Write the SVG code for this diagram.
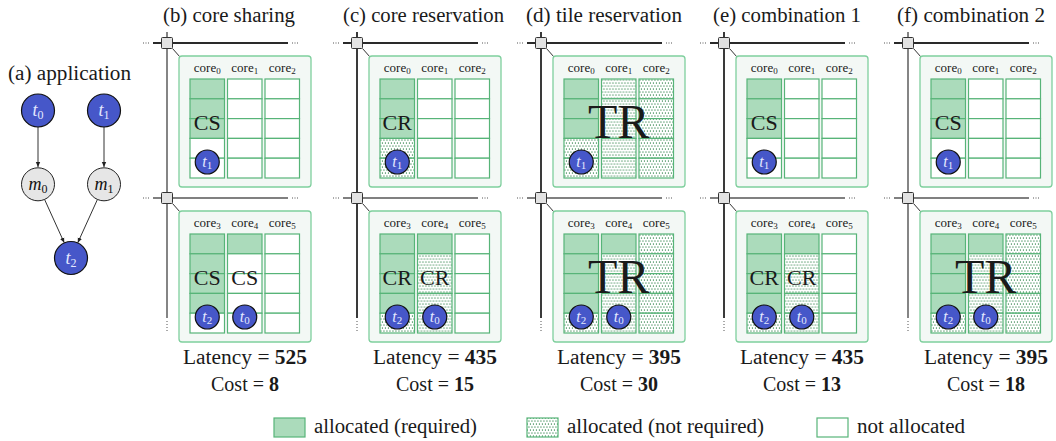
<svg xmlns="http://www.w3.org/2000/svg" width="1056" height="441" viewBox="0 0 1056 441" font-family="'Liberation Serif', 'Times New Roman', serif">
<defs>
<style>
text{font-family:"Liberation Serif","Times New Roman",serif}
.serif{fill:#1a1a1a}
.title{font-size:20px}
.core{font-size:13px;text-anchor:middle}
.big{font-size:22px;text-anchor:middle}
.tr{font-size:48px;text-anchor:middle}
.num{font-size:20px;text-anchor:middle}
.g{fill:#abdbbb;stroke:#57b478;stroke-width:1.2}
.d{fill:url(#dots);stroke:#57b478;stroke-width:1.2}
.w{fill:#fff;stroke:#57b478;stroke-width:1.2}
.tile{fill:#f3f8f5;stroke:#7fcf9d;stroke-width:1.3}
.router{fill:#e2e2e2;stroke:#333;stroke-width:1}
.task{fill:#4657c9;stroke:#111;stroke-width:1.2}
.msg{fill:#e6e6e6;stroke:#222;stroke-width:1}
.tt{fill:#e4e8ff;text-anchor:middle}
.mt{fill:#111;text-anchor:middle}
.hd{stroke:#2a2a2a;stroke-width:2}
.hg{stroke:#808080;stroke-width:2}
.vd{stroke:#3a3a3a;stroke-width:2}
.vg{stroke:#858585;stroke-width:2}
.dotsh{stroke:#555;stroke-width:1;stroke-dasharray:1 1.5}
.dotsv{stroke:#555;stroke-width:1;stroke-dasharray:1 2}
.diag{stroke:#333;stroke-width:1}
.edge{stroke:#333;stroke-width:1;fill:none;marker-end:url(#arr)}
</style>
<pattern id="dots" width="3" height="6" patternUnits="userSpaceOnUse">
<rect width="3" height="6" fill="#fff"/>
<rect x="0.4" y="0.5" width="1.1" height="1.1" fill="#1f7a3c"/>
<rect x="1.9" y="3.5" width="1.1" height="1.1" fill="#1f7a3c"/>
</pattern>
<marker id="arr" markerWidth="6" markerHeight="6" refX="5" refY="3" orient="auto" markerUnits="userSpaceOnUse">
<path d="M0,0.8 L5,3 L0,5.2 z" fill="#222"/>
</marker>
<g id="cW"><rect class="w" x="0" y="0" width="34.5" height="19.8"/><rect class="w" x="0" y="19.8" width="34.5" height="19.8"/><rect class="w" x="0" y="39.6" width="34.5" height="19.8"/><rect class="w" x="0" y="59.4" width="34.5" height="19.8"/><rect class="w" x="0" y="79.2" width="34.5" height="19.8"/></g>
<g id="cD"><rect class="d" x="0" y="0" width="34.5" height="19.8"/><rect class="d" x="0" y="19.8" width="34.5" height="19.8"/><rect class="d" x="0" y="39.6" width="34.5" height="19.8"/><rect class="d" x="0" y="59.4" width="34.5" height="19.8"/><rect class="d" x="0" y="79.2" width="34.5" height="19.8"/></g>
<g id="cG3W"><rect class="g" x="0" y="0" width="34.5" height="19.8"/><rect class="g" x="0" y="19.8" width="34.5" height="19.8"/><rect class="g" x="0" y="39.6" width="34.5" height="19.8"/><rect class="w" x="0" y="59.4" width="34.5" height="19.8"/><rect class="w" x="0" y="79.2" width="34.5" height="19.8"/></g>
<g id="cG3D"><rect class="g" x="0" y="0" width="34.5" height="19.8"/><rect class="g" x="0" y="19.8" width="34.5" height="19.8"/><rect class="g" x="0" y="39.6" width="34.5" height="19.8"/><rect class="d" x="0" y="59.4" width="34.5" height="19.8"/><rect class="d" x="0" y="79.2" width="34.5" height="19.8"/></g>
<g id="cG4W"><rect class="g" x="0" y="0" width="34.5" height="19.8"/><rect class="g" x="0" y="19.8" width="34.5" height="19.8"/><rect class="g" x="0" y="39.6" width="34.5" height="19.8"/><rect class="g" x="0" y="59.4" width="34.5" height="19.8"/><rect class="w" x="0" y="79.2" width="34.5" height="19.8"/></g>
<g id="cG4D"><rect class="g" x="0" y="0" width="34.5" height="19.8"/><rect class="g" x="0" y="19.8" width="34.5" height="19.8"/><rect class="g" x="0" y="39.6" width="34.5" height="19.8"/><rect class="g" x="0" y="59.4" width="34.5" height="19.8"/><rect class="d" x="0" y="79.2" width="34.5" height="19.8"/></g>
<g id="cG1W"><rect class="g" x="0" y="0" width="34.5" height="19.8"/><rect class="w" x="0" y="19.8" width="34.5" height="19.8"/><rect class="w" x="0" y="39.6" width="34.5" height="19.8"/><rect class="w" x="0" y="59.4" width="34.5" height="19.8"/><rect class="w" x="0" y="79.2" width="34.5" height="19.8"/></g>
<g id="cG1D"><rect class="g" x="0" y="0" width="34.5" height="19.8"/><rect class="d" x="0" y="19.8" width="34.5" height="19.8"/><rect class="d" x="0" y="39.6" width="34.5" height="19.8"/><rect class="d" x="0" y="59.4" width="34.5" height="19.8"/><rect class="d" x="0" y="79.2" width="34.5" height="19.8"/></g>
</defs>
<rect width="1056" height="441" fill="#fff"/>

<!-- (a) application -->
<text class="serif title" x="8" y="80" textLength="123" lengthAdjust="spacingAndGlyphs">(a) application</text>
<g id="app-edges">
<line class="edge" x1="38" y1="127" x2="38" y2="167"/>
<line class="edge" x1="104" y1="127" x2="104" y2="167"/>
<line class="edge" x1="44.5" y1="199.3" x2="64.2" y2="242.7"/>
<line class="edge" x1="97.5" y1="199.3" x2="77.8" y2="242.7"/>
</g>
<g id="node-t0"><circle class="task" cx="38" cy="110.5" r="16.5"/><text class="tt" x="38" y="116" font-size="18" style="font-family:'Liberation Serif',serif"><tspan font-style="italic">t</tspan><tspan font-size="12" dy="3">0</tspan></text></g>
<g id="node-t1"><circle class="task" cx="104" cy="110.5" r="16.5"/><text class="tt" x="104" y="116" font-size="18" style="font-family:'Liberation Serif',serif"><tspan font-style="italic">t</tspan><tspan font-size="12" dy="3">1</tspan></text></g>
<g id="node-m0"><circle class="msg" cx="38" cy="184.3" r="16.5"/><text class="mt" x="38" y="189.5" font-size="18" style="font-family:'Liberation Serif',serif"><tspan font-style="italic">m</tspan><tspan font-size="12" dy="3">0</tspan></text></g>
<g id="node-m1"><circle class="msg" cx="104" cy="184.3" r="16.5"/><text class="mt" x="104" y="189.5" font-size="18" style="font-family:'Liberation Serif',serif"><tspan font-style="italic">m</tspan><tspan font-size="12" dy="3">1</tspan></text></g>
<g id="node-t2"><circle class="task" cx="71" cy="258" r="16.5"/><text class="tt" x="71" y="263.5" font-size="18" style="font-family:'Liberation Serif',serif"><tspan font-style="italic">t</tspan><tspan font-size="12" dy="3">2</tspan></text></g>

<!-- titles -->
<g id="titles" class="serif title">
<text x="163" y="22" textLength="132" lengthAdjust="spacingAndGlyphs">(b) core sharing</text>
<text x="343" y="22" textLength="161" lengthAdjust="spacingAndGlyphs">(c) core reservation</text>
<text x="526" y="22" textLength="156" lengthAdjust="spacingAndGlyphs">(d) tile reservation</text>
<text x="713" y="22" textLength="148" lengthAdjust="spacingAndGlyphs">(e) combination 1</text>
<text x="897" y="22" textLength="148" lengthAdjust="spacingAndGlyphs">(f) combination 2</text>
</g>

<!-- network links -->
<g id="connectors">
<line class="vg" x1="167" y1="32" x2="167" y2="318"/>
<line class="dotsv" x1="167" y1="321" x2="167" y2="331"/>
<line class="hd" x1="153" y1="43" x2="288" y2="43"/><line class="dotsh" x1="143" y1="43" x2="150" y2="43"/><line class="dotsh" x1="292" y1="43" x2="299" y2="43"/>
<line class="hg" x1="153" y1="198" x2="288" y2="198"/><line class="dotsh" x1="143" y1="198" x2="150" y2="198"/><line class="dotsh" x1="292" y1="198" x2="299" y2="198"/>
<line class="diag" x1="172.5" y1="48.5" x2="180" y2="57"/><line class="diag" x1="172.5" y1="203.5" x2="180" y2="212"/>
<line class="vd" x1="357" y1="32" x2="357" y2="318"/>
<line class="dotsv" x1="357" y1="321" x2="357" y2="331"/>
<line class="hd" x1="343" y1="43" x2="478" y2="43"/><line class="dotsh" x1="333" y1="43" x2="340" y2="43"/><line class="dotsh" x1="482" y1="43" x2="489" y2="43"/>
<line class="hg" x1="343" y1="198" x2="478" y2="198"/><line class="dotsh" x1="333" y1="198" x2="340" y2="198"/><line class="dotsh" x1="482" y1="198" x2="489" y2="198"/>
<line class="diag" x1="362.5" y1="48.5" x2="370" y2="57"/><line class="diag" x1="362.5" y1="203.5" x2="370" y2="212"/>
<line class="vd" x1="541" y1="32" x2="541" y2="318"/>
<line class="dotsv" x1="541" y1="321" x2="541" y2="331"/>
<line class="hd" x1="527" y1="43" x2="662" y2="43"/><line class="dotsh" x1="517" y1="43" x2="524" y2="43"/><line class="dotsh" x1="666" y1="43" x2="673" y2="43"/>
<line class="hg" x1="527" y1="198" x2="662" y2="198"/><line class="dotsh" x1="517" y1="198" x2="524" y2="198"/><line class="dotsh" x1="666" y1="198" x2="673" y2="198"/>
<line class="diag" x1="546.5" y1="48.5" x2="554" y2="57"/><line class="diag" x1="546.5" y1="203.5" x2="554" y2="212"/>
<line class="vd" x1="724" y1="32" x2="724" y2="318"/>
<line class="dotsv" x1="724" y1="321" x2="724" y2="331"/>
<line class="hd" x1="710" y1="43" x2="845" y2="43"/><line class="dotsh" x1="700" y1="43" x2="707" y2="43"/><line class="dotsh" x1="849" y1="43" x2="856" y2="43"/>
<line class="hg" x1="710" y1="198" x2="845" y2="198"/><line class="dotsh" x1="700" y1="198" x2="707" y2="198"/><line class="dotsh" x1="849" y1="198" x2="856" y2="198"/>
<line class="diag" x1="729.5" y1="48.5" x2="737" y2="57"/><line class="diag" x1="729.5" y1="203.5" x2="737" y2="212"/>
<line class="vg" x1="908" y1="32" x2="908" y2="318"/>
<line class="dotsv" x1="908" y1="321" x2="908" y2="331"/>
<line class="hd" x1="894" y1="43" x2="1029" y2="43"/><line class="dotsh" x1="884" y1="43" x2="891" y2="43"/><line class="dotsh" x1="1033" y1="43" x2="1040" y2="43"/>
<line class="hg" x1="894" y1="198" x2="1029" y2="198"/><line class="dotsh" x1="884" y1="198" x2="891" y2="198"/><line class="dotsh" x1="1033" y1="198" x2="1040" y2="198"/>
<line class="diag" x1="913.5" y1="48.5" x2="921" y2="57"/><line class="diag" x1="913.5" y1="203.5" x2="921" y2="212"/>
</g>

<g id="routers">
<rect class="router" x="161.5" y="37.5" width="11" height="11" rx="1"/><rect class="router" x="161.5" y="192.5" width="11" height="11" rx="1"/>
<rect class="router" x="351.5" y="37.5" width="11" height="11" rx="1"/><rect class="router" x="351.5" y="192.5" width="11" height="11" rx="1"/>
<rect class="router" x="535.5" y="37.5" width="11" height="11" rx="1"/><rect class="router" x="535.5" y="192.5" width="11" height="11" rx="1"/>
<rect class="router" x="718.5" y="37.5" width="11" height="11" rx="1"/><rect class="router" x="718.5" y="192.5" width="11" height="11" rx="1"/>
<rect class="router" x="902.5" y="37.5" width="11" height="11" rx="1"/><rect class="router" x="902.5" y="192.5" width="11" height="11" rx="1"/>
</g>

<!-- (b) -->
<g id="tile-b-top" style="font-family:'Liberation Serif',serif">
<rect class="tile" x="179" y="56" width="132" height="131" rx="3"/>
<use href="#cG3W" x="190" y="79"/><use href="#cW" x="227.5" y="79"/><use href="#cW" x="265" y="79"/>
<g class="serif core"><text x="207.25" y="72">core<tspan font-size="9" dy="2">0</tspan></text><text x="244.75" y="72">core<tspan font-size="9" dy="2">1</tspan></text><text x="282.25" y="72">core<tspan font-size="9" dy="2">2</tspan></text></g>
<text class="serif big" x="207.25" y="130">CS</text>
<circle class="task" cx="207.25" cy="162" r="12"/><text class="tt" x="207.25" y="166.5" font-size="16"><tspan font-style="italic">t</tspan><tspan font-size="11" dy="2.5">1</tspan></text>
</g>
<g id="tile-b-bottom" style="font-family:'Liberation Serif',serif">
<rect class="tile" x="179" y="211" width="132" height="131" rx="3"/>
<use href="#cG4W" x="190" y="234"/><use href="#cG1W" x="227.5" y="234"/><use href="#cW" x="265" y="234"/>
<g class="serif core"><text x="207.25" y="227">core<tspan font-size="9" dy="2">3</tspan></text><text x="244.75" y="227">core<tspan font-size="9" dy="2">4</tspan></text><text x="282.25" y="227">core<tspan font-size="9" dy="2">5</tspan></text></g>
<text class="serif big" x="207.25" y="285">CS</text><text class="serif big" x="244.75" y="285">CS</text>
<circle class="task" cx="207.25" cy="317" r="12"/><text class="tt" x="207.25" y="321.5" font-size="16"><tspan font-style="italic">t</tspan><tspan font-size="11" dy="2.5">2</tspan></text>
<circle class="task" cx="244.75" cy="317" r="12"/><text class="tt" x="244.75" y="321.5" font-size="16"><tspan font-style="italic">t</tspan><tspan font-size="11" dy="2.5">0</tspan></text>
</g>
<g id="metrics-b" class="serif num" style="font-family:'Liberation Serif',serif"><text x="245" y="364" textLength="124" lengthAdjust="spacingAndGlyphs">Latency = <tspan font-weight="bold">525</tspan></text><text x="245" y="391">Cost = <tspan font-weight="bold">8</tspan></text></g>

<!-- (c) -->
<g id="tile-c-top" style="font-family:'Liberation Serif',serif">
<rect class="tile" x="369" y="56" width="132" height="131" rx="3"/>
<use href="#cG3D" x="380" y="79"/><use href="#cW" x="417.5" y="79"/><use href="#cW" x="455" y="79"/>
<g class="serif core"><text x="397.25" y="72">core<tspan font-size="9" dy="2">0</tspan></text><text x="434.75" y="72">core<tspan font-size="9" dy="2">1</tspan></text><text x="472.25" y="72">core<tspan font-size="9" dy="2">2</tspan></text></g>
<text class="serif big" x="397.25" y="130">CR</text>
<circle class="task" cx="397.25" cy="162" r="12"/><text class="tt" x="397.25" y="166.5" font-size="16"><tspan font-style="italic">t</tspan><tspan font-size="11" dy="2.5">1</tspan></text>
</g>
<g id="tile-c-bottom" style="font-family:'Liberation Serif',serif">
<rect class="tile" x="369" y="211" width="132" height="131" rx="3"/>
<use href="#cG4D" x="380" y="234"/><use href="#cG1D" x="417.5" y="234"/><use href="#cW" x="455" y="234"/>
<g class="serif core"><text x="397.25" y="227">core<tspan font-size="9" dy="2">3</tspan></text><text x="434.75" y="227">core<tspan font-size="9" dy="2">4</tspan></text><text x="472.25" y="227">core<tspan font-size="9" dy="2">5</tspan></text></g>
<text class="serif big" x="397.25" y="285">CR</text><text class="serif big" x="434.75" y="285">CR</text>
<circle class="task" cx="397.25" cy="317" r="12"/><text class="tt" x="397.25" y="321.5" font-size="16"><tspan font-style="italic">t</tspan><tspan font-size="11" dy="2.5">2</tspan></text>
<circle class="task" cx="434.75" cy="317" r="12"/><text class="tt" x="434.75" y="321.5" font-size="16"><tspan font-style="italic">t</tspan><tspan font-size="11" dy="2.5">0</tspan></text>
</g>
<g id="metrics-c" class="serif num" style="font-family:'Liberation Serif',serif"><text x="435" y="364" textLength="124" lengthAdjust="spacingAndGlyphs">Latency = <tspan font-weight="bold">435</tspan></text><text x="435" y="391">Cost = <tspan font-weight="bold">15</tspan></text></g>

<!-- (d) -->
<g id="tile-d-top" style="font-family:'Liberation Serif',serif">
<rect class="tile" x="553" y="56" width="132" height="131" rx="3"/>
<use href="#cG3D" x="564" y="79"/><use href="#cD" x="601.5" y="79"/><use href="#cD" x="639" y="79"/>
<g class="serif core"><text x="581.25" y="72">core<tspan font-size="9" dy="2">0</tspan></text><text x="618.75" y="72">core<tspan font-size="9" dy="2">1</tspan></text><text x="656.25" y="72">core<tspan font-size="9" dy="2">2</tspan></text></g>
<text class="serif tr" x="618.75" y="138">TR</text>
<circle class="task" cx="581.25" cy="162" r="12"/><text class="tt" x="581.25" y="166.5" font-size="16"><tspan font-style="italic">t</tspan><tspan font-size="11" dy="2.5">1</tspan></text>
</g>
<g id="tile-d-bottom" style="font-family:'Liberation Serif',serif">
<rect class="tile" x="553" y="211" width="132" height="131" rx="3"/>
<use href="#cG4D" x="564" y="234"/><use href="#cG1D" x="601.5" y="234"/><use href="#cD" x="639" y="234"/>
<g class="serif core"><text x="581.25" y="227">core<tspan font-size="9" dy="2">3</tspan></text><text x="618.75" y="227">core<tspan font-size="9" dy="2">4</tspan></text><text x="656.25" y="227">core<tspan font-size="9" dy="2">5</tspan></text></g>
<text class="serif tr" x="618.75" y="293">TR</text>
<circle class="task" cx="581.25" cy="317" r="12"/><text class="tt" x="581.25" y="321.5" font-size="16"><tspan font-style="italic">t</tspan><tspan font-size="11" dy="2.5">2</tspan></text>
<circle class="task" cx="618.75" cy="317" r="12"/><text class="tt" x="618.75" y="321.5" font-size="16"><tspan font-style="italic">t</tspan><tspan font-size="11" dy="2.5">0</tspan></text>
</g>
<g id="metrics-d" class="serif num" style="font-family:'Liberation Serif',serif"><text x="619" y="364" textLength="124" lengthAdjust="spacingAndGlyphs">Latency = <tspan font-weight="bold">395</tspan></text><text x="619" y="391">Cost = <tspan font-weight="bold">30</tspan></text></g>

<!-- (e) -->
<g id="tile-e-top" style="font-family:'Liberation Serif',serif">
<rect class="tile" x="736" y="56" width="132" height="131" rx="3"/>
<use href="#cG3W" x="747" y="79"/><use href="#cW" x="784.5" y="79"/><use href="#cW" x="822" y="79"/>
<g class="serif core"><text x="764.25" y="72">core<tspan font-size="9" dy="2">0</tspan></text><text x="801.75" y="72">core<tspan font-size="9" dy="2">1</tspan></text><text x="839.25" y="72">core<tspan font-size="9" dy="2">2</tspan></text></g>
<text class="serif big" x="764.25" y="130">CS</text>
<circle class="task" cx="764.25" cy="162" r="12"/><text class="tt" x="764.25" y="166.5" font-size="16"><tspan font-style="italic">t</tspan><tspan font-size="11" dy="2.5">1</tspan></text>
</g>
<g id="tile-e-bottom" style="font-family:'Liberation Serif',serif">
<rect class="tile" x="736" y="211" width="132" height="131" rx="3"/>
<use href="#cG4D" x="747" y="234"/><use href="#cG1D" x="784.5" y="234"/><use href="#cW" x="822" y="234"/>
<g class="serif core"><text x="764.25" y="227">core<tspan font-size="9" dy="2">3</tspan></text><text x="801.75" y="227">core<tspan font-size="9" dy="2">4</tspan></text><text x="839.25" y="227">core<tspan font-size="9" dy="2">5</tspan></text></g>
<text class="serif big" x="764.25" y="285">CR</text><text class="serif big" x="801.75" y="285">CR</text>
<circle class="task" cx="764.25" cy="317" r="12"/><text class="tt" x="764.25" y="321.5" font-size="16"><tspan font-style="italic">t</tspan><tspan font-size="11" dy="2.5">2</tspan></text>
<circle class="task" cx="801.75" cy="317" r="12"/><text class="tt" x="801.75" y="321.5" font-size="16"><tspan font-style="italic">t</tspan><tspan font-size="11" dy="2.5">0</tspan></text>
</g>
<g id="metrics-e" class="serif num" style="font-family:'Liberation Serif',serif"><text x="802" y="364" textLength="124" lengthAdjust="spacingAndGlyphs">Latency = <tspan font-weight="bold">435</tspan></text><text x="802" y="391">Cost = <tspan font-weight="bold">13</tspan></text></g>

<!-- (f) -->
<g id="tile-f-top" style="font-family:'Liberation Serif',serif">
<rect class="tile" x="920" y="56" width="132" height="131" rx="3"/>
<use href="#cG3W" x="931" y="79"/><use href="#cW" x="968.5" y="79"/><use href="#cW" x="1006" y="79"/>
<g class="serif core"><text x="948.25" y="72">core<tspan font-size="9" dy="2">0</tspan></text><text x="985.75" y="72">core<tspan font-size="9" dy="2">1</tspan></text><text x="1023.25" y="72">core<tspan font-size="9" dy="2">2</tspan></text></g>
<text class="serif big" x="948.25" y="130">CS</text>
<circle class="task" cx="948.25" cy="162" r="12"/><text class="tt" x="948.25" y="166.5" font-size="16"><tspan font-style="italic">t</tspan><tspan font-size="11" dy="2.5">1</tspan></text>
</g>
<g id="tile-f-bottom" style="font-family:'Liberation Serif',serif">
<rect class="tile" x="920" y="211" width="132" height="131" rx="3"/>
<use href="#cG4D" x="931" y="234"/><use href="#cG1D" x="968.5" y="234"/><use href="#cD" x="1006" y="234"/>
<g class="serif core"><text x="948.25" y="227">core<tspan font-size="9" dy="2">3</tspan></text><text x="985.75" y="227">core<tspan font-size="9" dy="2">4</tspan></text><text x="1023.25" y="227">core<tspan font-size="9" dy="2">5</tspan></text></g>
<text class="serif tr" x="985.75" y="293">TR</text>
<circle class="task" cx="948.25" cy="317" r="12"/><text class="tt" x="948.25" y="321.5" font-size="16"><tspan font-style="italic">t</tspan><tspan font-size="11" dy="2.5">2</tspan></text>
<circle class="task" cx="985.75" cy="317" r="12"/><text class="tt" x="985.75" y="321.5" font-size="16"><tspan font-style="italic">t</tspan><tspan font-size="11" dy="2.5">0</tspan></text>
</g>
<g id="metrics-f" class="serif num" style="font-family:'Liberation Serif',serif"><text x="986" y="364" textLength="124" lengthAdjust="spacingAndGlyphs">Latency = <tspan font-weight="bold">395</tspan></text><text x="986" y="391">Cost = <tspan font-weight="bold">18</tspan></text></g>

<!-- legend -->
<g id="legend" class="serif" font-size="20" style="font-family:'Liberation Serif',serif">
<rect class="g" x="274" y="418" width="31" height="19"/>
<text x="314" y="433" textLength="163" lengthAdjust="spacingAndGlyphs">allocated (required)</text>
<rect class="d" x="527" y="418" width="31" height="19"/>
<text x="567" y="433" textLength="197" lengthAdjust="spacingAndGlyphs">allocated (not required)</text>
<rect class="w" x="817" y="418" width="31" height="19"/>
<text x="857" y="433" textLength="108" lengthAdjust="spacingAndGlyphs">not allocated</text>
</g>
</svg>
